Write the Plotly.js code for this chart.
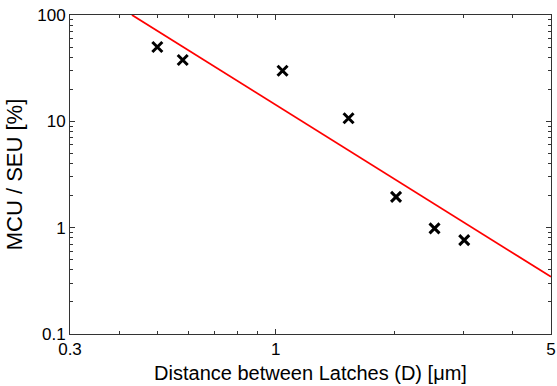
<!DOCTYPE html>
<html>
<head>
<meta charset="utf-8">
<script src="https://cdn.plot.ly/plotly-3.0.1.min.js"></script>
<style>html,body{margin:0;padding:0;background:#fff;}#chart{width:557px;height:386px;}</style>
</head>
<body>
<div id="chart"></div>
<script>
// Measured data: distance between latches (um) vs MCU/SEU ratio (%)
const distance = [0.50, 0.58, 1.04, 1.53, 2.02, 2.53, 3.01];
const mcuSeu = [50, 37.7, 29.9, 10.7, 1.95, 0.985, 0.764];
// Power-law fit line endpoints
const fitX = [0.431, 5];
const fitY = [100, 0.345];
// Tick definitions
const xTickVals = [0.3, 1, 5];
const xTickText = ['0.3', '1', '5'];
const xMinorVals = [0.4, 0.5, 0.6, 0.7, 0.8, 0.9, 2, 3, 4];
const yTickVals = [0.1, 1, 10, 100];
const yTickText = ['0.1', '1', '10', '100'];
const yMinorVals = [0.2,0.3,0.4,0.5,0.6,0.7,0.8,0.9,2,3,4,5,6,7,8,9,20,30,40,50,60,70,80,90];

const fontFam = 'Liberation Sans, Arial, Helvetica, sans-serif';
const axisCommon = {
  type: 'log', showgrid: false, zeroline: false, automargin: false,
  showline: true, linecolor: '#333', linewidth: 1, mirror: 'ticks',
  ticks: 'inside', ticklen: 5, tickwidth: 1, tickcolor: '#333',
  tickmode: 'array', ticklabeloverflow: 'allow',
  tickfont: {family: fontFam, size: 17, color: '#000'}
};
const traces = [
  {x: fitX, y: fitY, type: 'scatter', mode: 'lines',
   line: {color: '#ff0000', width: 1.8}, hoverinfo: 'skip'},
  {x: distance, y: mcuSeu, type: 'scatter', mode: 'markers',
   marker: {symbol: 'x-thin-open', size: 10, color: '#000', line: {color: '#000', width: 3}}}
];
const layout = {
  width: 557, height: 386,
  margin: {l: 70, r: 6, t: 15, b: 52},
  paper_bgcolor: '#fff', plot_bgcolor: '#fff',
  showlegend: false,
  xaxis: Object.assign({}, axisCommon, {
    range: [Math.log10(0.3) - 1e-6, Math.log10(5) + 1e-6],
    tickvals: xTickVals, ticktext: xTickText,
    minor: {tickmode: 'array', tickvals: xMinorVals, ticks: 'inside', ticklen: 3, tickcolor: '#333'},
    title: {text: 'Distance between Latches (D) [\u03bcm]', font: {family: fontFam, size: 20, color: '#000'}, standoff: 7}
  }),
  yaxis: Object.assign({}, axisCommon, {
    range: [-1 - 1e-6, 2 + 1e-6],
    tickvals: yTickVals, ticktext: yTickText,
    minor: {tickmode: 'array', tickvals: yMinorVals, ticks: 'inside', ticklen: 3, tickcolor: '#333'},
    title: {text: 'MCU / SEU [%]', font: {family: fontFam, size: 22, color: '#000'}, standoff: 8}
  })
};
Plotly.newPlot('chart', traces, layout, {staticPlot: true, displayModeBar: false});
</script>
</body>
</html>
